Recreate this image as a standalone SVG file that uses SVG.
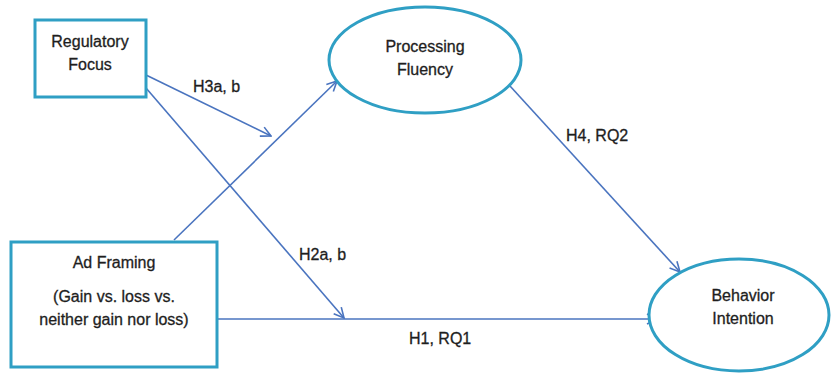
<svg xmlns="http://www.w3.org/2000/svg" width="831" height="374" viewBox="0 0 831 374">
  <style>
    .node { fill: #ffffff; stroke: #2f9fc4; stroke-width: 3; }
    .lbl { font-family: "Liberation Sans", Arial, sans-serif; font-size: 16px; fill: #1e1e1e; stroke: #1e1e1e; stroke-width: 0.3; text-anchor: middle; }
    .edge { fill: none; stroke: #4a74bf; stroke-width: 1.6; marker-end: url(#arrow); }
    .elbl { font-family: "Liberation Sans", Arial, sans-serif; font-size: 16px; fill: #1e1e1e; stroke: #1e1e1e; stroke-width: 0.3; }
  </style>
  <defs>
    <marker id="arrow" viewBox="0 0 12 12" refX="11" refY="6" markerWidth="12" markerHeight="12" markerUnits="userSpaceOnUse" orient="auto">
      <path d="M1,1 L11,6 L1,11" fill="none" stroke="#4a74bf" stroke-width="1.6"/>
    </marker>
  </defs>
  <rect width="831" height="374" fill="#ffffff"/>

  <g id="connectors">
    <line class="edge" x1="146" y1="75" x2="271" y2="136"/>
    <line class="edge" x1="146" y1="88" x2="344" y2="318"/>
    <line class="edge" x1="174" y1="240" x2="337" y2="81"/>
    <line class="edge" x1="510" y1="86" x2="680" y2="272"/>
    <line class="edge" x1="217" y1="319" x2="657" y2="319"/>
    <text class="elbl" x="193" y="92">H3a, b</text>
    <text class="elbl" x="299" y="260">H2a, b</text>
    <text class="elbl" x="566" y="141">H4, RQ2</text>
    <text class="elbl" x="409" y="344">H1, RQ1</text>
  </g>

  <g id="regulatory-focus">
    <rect class="node" x="35" y="20" width="111" height="77"/>
    <text class="lbl" x="90" y="47">Regulatory</text>
    <text class="lbl" x="90" y="70">Focus</text>
  </g>

  <g id="processing-fluency">
    <ellipse class="node" cx="425" cy="60" rx="96" ry="53"/>
    <text class="lbl" x="425" y="52">Processing</text>
    <text class="lbl" x="425" y="75">Fluency</text>
  </g>

  <g id="ad-framing">
    <rect class="node" x="11" y="242" width="206" height="125"/>
    <text class="lbl" x="114" y="268">Ad Framing</text>
    <text class="lbl" x="114" y="302">(Gain vs. loss vs.</text>
    <text class="lbl" x="114" y="325">neither gain nor loss)</text>
  </g>

  <g id="behavior-intention">
    <ellipse class="node" cx="739" cy="315" rx="90" ry="56"/>
    <text class="lbl" x="743" y="301">Behavior</text>
    <text class="lbl" x="743" y="324">Intention</text>
  </g>
</svg>
